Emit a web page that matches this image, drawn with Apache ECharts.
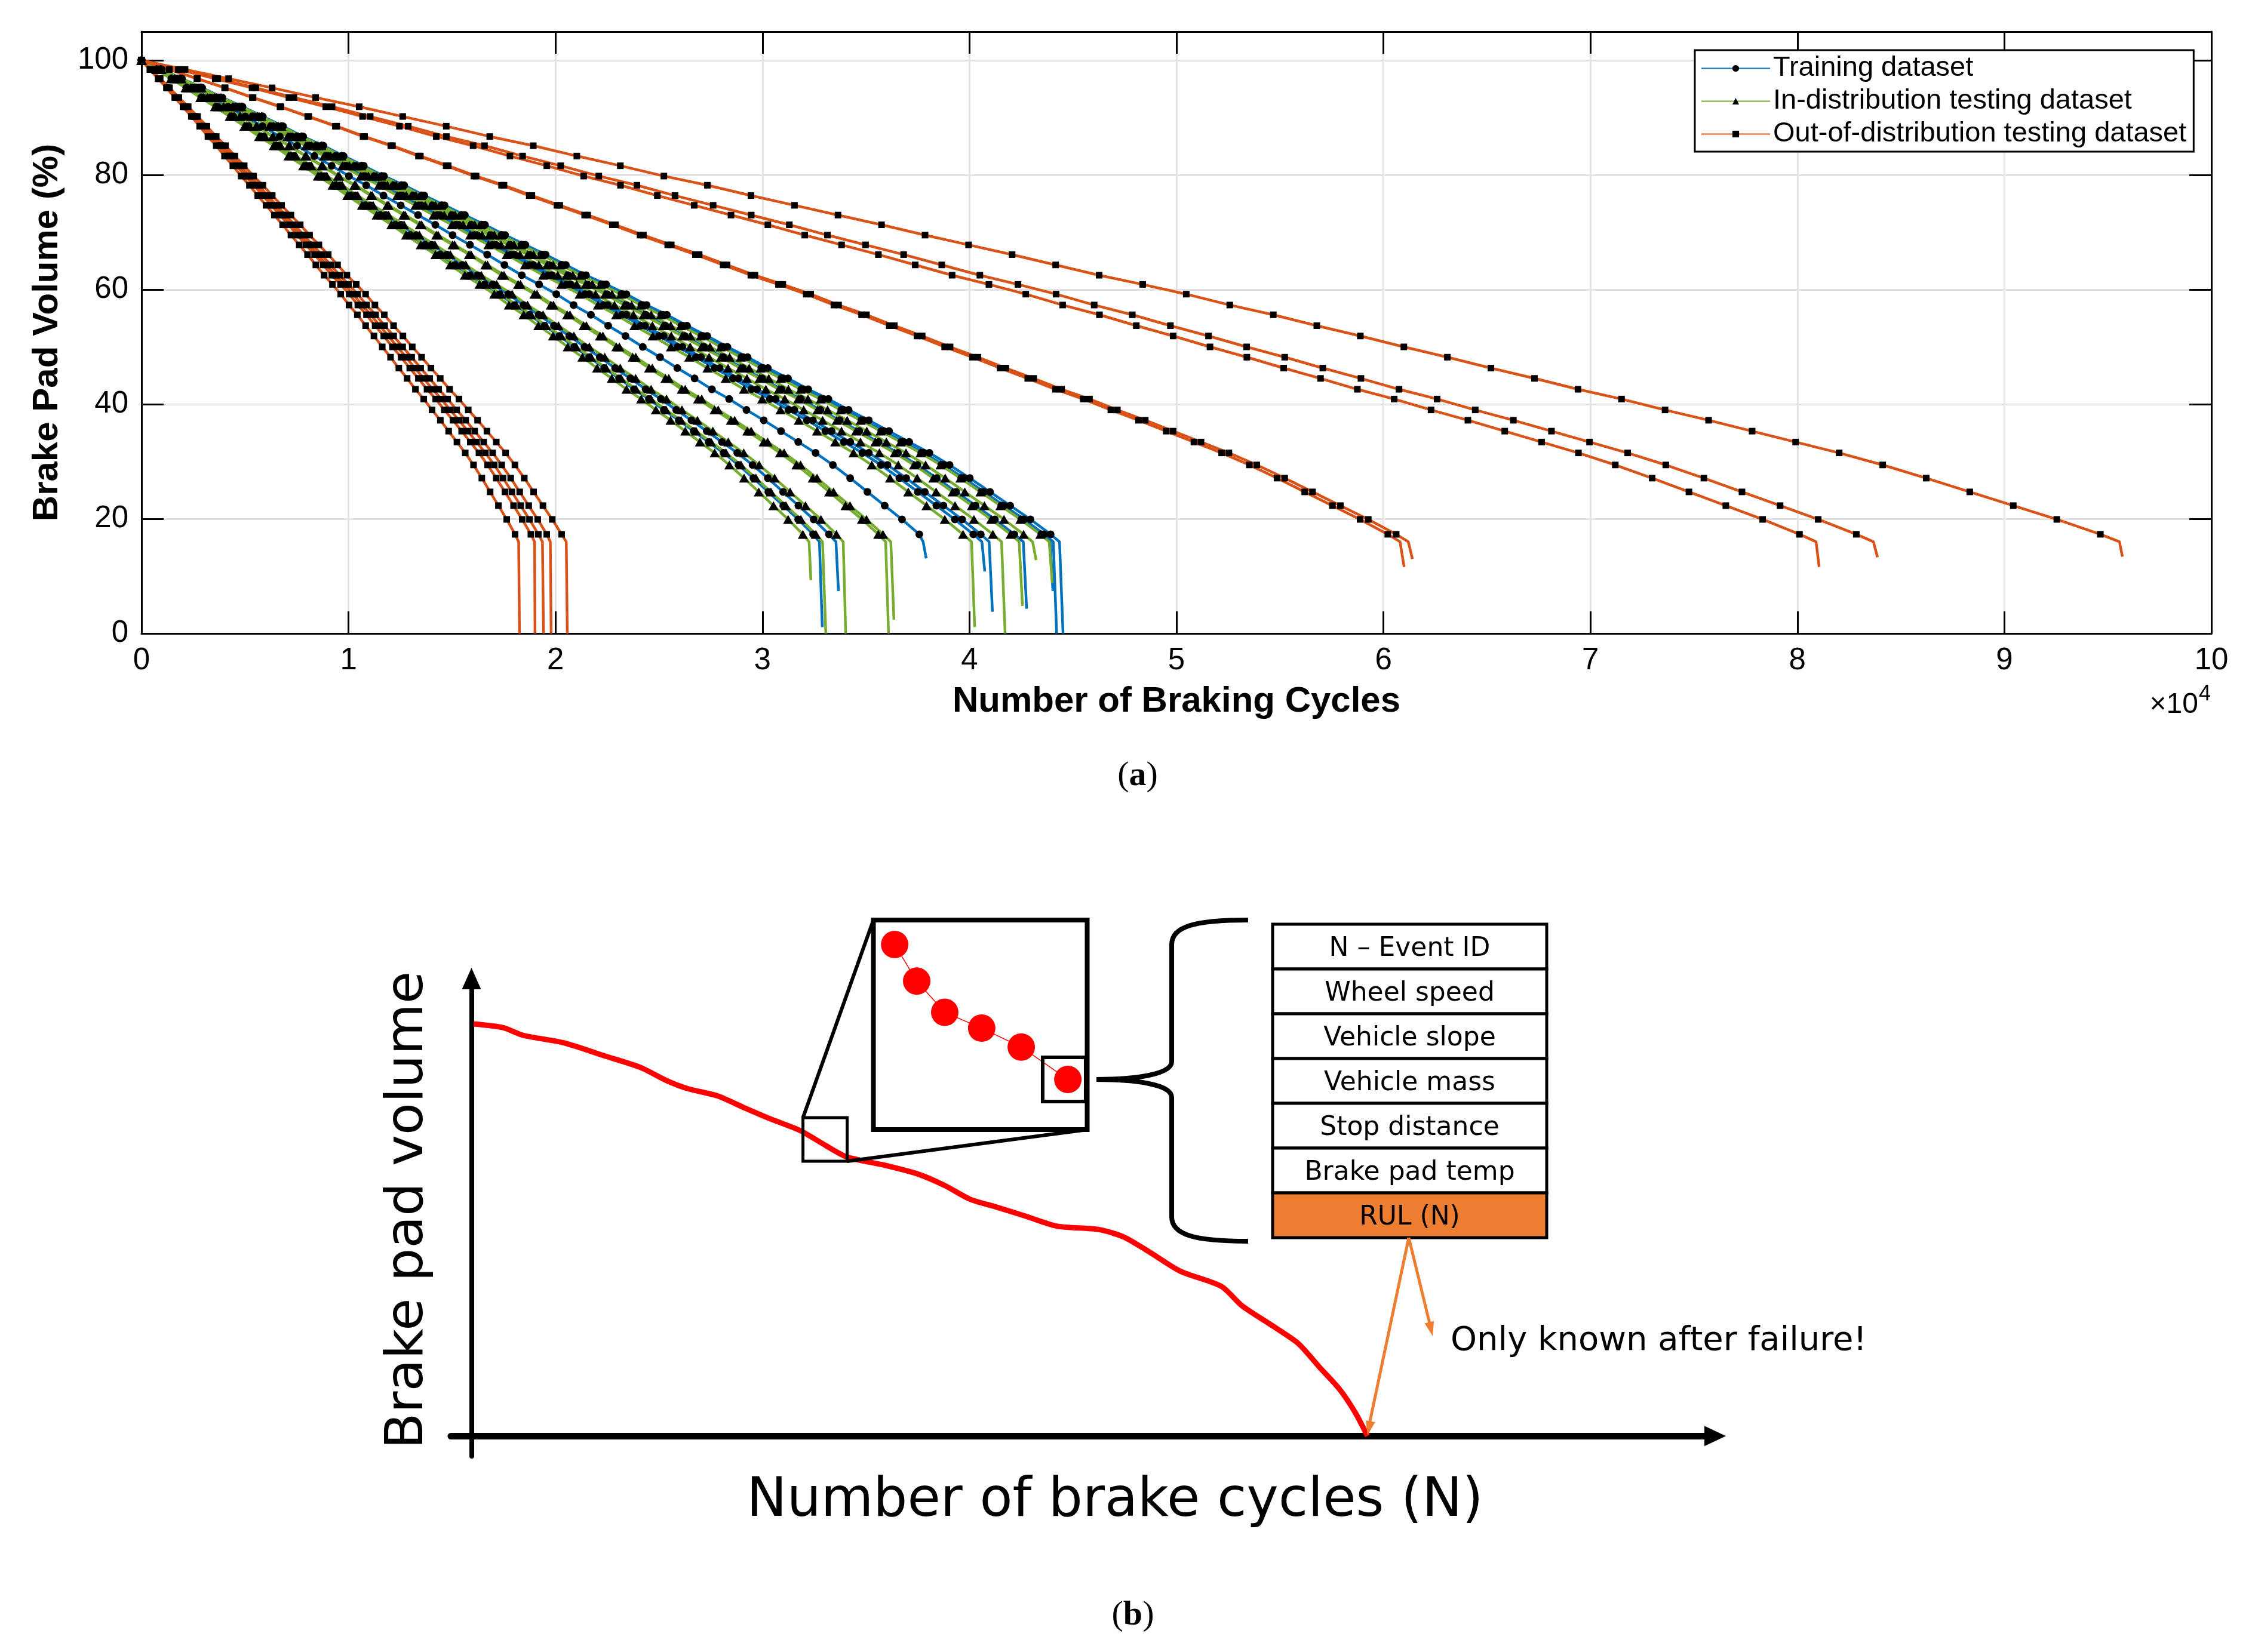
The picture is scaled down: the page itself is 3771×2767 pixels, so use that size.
<!DOCTYPE html>
<html>
<head>
<meta charset="utf-8">
<title>Brake pad volume</title>
<script src="https://cdn.jsdelivr.net/npm/echarts@6.0.0/dist/echarts.min.js"></script>
<style>
  html, body { margin: 0; padding: 0; background: #fff; }
  #chart { width: 3771px; height: 2767px; }
</style>
</head>
<body>
<div id="chart"></div>
<script>
// ---- (a) wear curves ----
// brake pad volume (%) at each plotted marker; every run carries the same number of markers
const markerVolume = [100, 98.4, 96.8, 95.2, 93.5, 91.9, 90.2, 88.5, 86.7, 85.1,
  83.3, 81.6, 79.8, 78.2, 76.4, 74.7, 73.0, 71.3, 69.5, 67.8,
  66.1, 64.3, 62.5, 60.9, 59.2, 57.3, 55.6, 53.7, 51.9, 50.0,
  48.2, 46.3, 44.5, 42.6, 40.9, 39.0, 37.2, 35.3, 33.4, 31.5,
  29.4, 27.1, 24.7, 22.3, 19.9, 17.3];
const kneeVolume = 16;

// cycles are in units of 1e4
// training runs (blue)
const trainStep = [0.0721, 0.0738, 0.0835, 0.0893, 0.0901, 0.0937, 0.0966, 0.0969, 0.0976];
const trainKneeX = [3.275, 3.355, 3.776, 4.06, 4.095, 4.26, 4.39, 4.405, 4.435];
const trainEndX = [3.289, 3.367, 3.791, 4.074, 4.111, 4.276, 4.403, 4.421, 4.452];
const trainEndY = [1.1, 7.4, 13.1, 10.8, 3.8, 4.3, 7.4, 0, 0];

// in-distribution testing runs (green)
const inStep = [0.0710, 0.0724, 0.0746, 0.0791, 0.0796, 0.0882, 0.0914, 0.0933, 0.0947, 0.0965];
const inKneeX = [3.225, 3.29, 3.39, 3.595, 3.62, 4.01, 4.155, 4.24, 4.305, 4.385];
const inEndX = [3.234, 3.306, 3.402, 3.609, 3.635, 4.025, 4.172, 4.256, 4.322, 4.400];
const inEndY = [9.3, 0, 0, 0, 2.4, 1.1, 0, 4.8, 12.8, 8.8];

// out-of-distribution testing runs (orange)
const oodStep = [0.0401, 0.0418, 0.0426, 0.0435, 0.0451, 0.1338, 0.1347, 0.1780, 0.1841, 0.2103];
const oodKneeX = [1.822, 1.899, 1.937, 1.975, 2.052, 6.08, 6.12, 8.09, 8.367, 9.556];
const oodEndX = [1.826, 1.901, 1.942, 1.979, 2.057, 6.10, 6.14, 8.105, 8.387, 9.57];
const oodEndY = [0, 0, 0, 0, 0, 11.6, 13.0, 11.6, 13.3, 13.4];

// ---- (b) sketch ----
// cycles scaled so failure = 100, volume in % of the start
const sketchCycles = [0.25, 3.5, 5.8, 10.3, 14.9, 18.9, 21.8, 24.1, 27.5, 30.4, 33.3, 36.7, 39.6,
  41.9, 45.9, 49.9, 52.8, 55.6, 58.5, 61.9, 65.4, 70.0, 72.8, 75.7, 79.1, 83.7, 86.0, 89.5,
  92.3, 94.6, 96.9, 98.6, 100];
const sketchVolume = [100, 99.1, 97.2, 95.4, 92.2, 89.4, 86.2, 84.3, 82.5, 79.7, 77.0, 74.1, 70.4,
  67.7, 65.8, 63.5, 60.8, 57.5, 55.6, 53.3, 50.9, 50.1, 48.3, 44.6, 40.0, 36.3, 31.6, 26.6,
  22.4, 16.8, 11.3, 5.8, 0];
// zoomed window (arbitrary 0-10 units)
const insetX = [1.01, 2.04, 3.35, 5.08, 6.93, 9.11];
const insetY = [8.83, 7.09, 5.60, 4.84, 3.94, 2.39];
const tableRows = ['N – Event ID', 'Wheel speed', 'Vehicle slope', 'Vehicle mass',
  'Stop distance', 'Brake pad temp', 'RUL (N)'];

const BLUE = '#0072BD', GREEN = '#77AC30', ORANGE = '#D95319', SKETCH_ORANGE = '#ED7D31';
const FONT = 'Liberation Sans', SKETCH_FONT = 'DejaVu Sans', SERIF = 'Liberation Serif';

function runData(step, kneeX, endX, endY) {
  const pts = markerVolume.map((v, i) => [i * step, v]);
  pts.push({ value: [kneeX, kneeVolume], symbol: 'none' });
  pts.push({ value: [endX, endY], symbol: 'none' });
  return pts;
}

function runSeries(name, color, symbol, size, step, kneeX, endX, endY) {
  return step.map((s, k) => ({
    name: name,
    type: 'line',
    xAxisIndex: 0,
    yAxisIndex: 0,
    data: runData(s, kneeX[k], endX[k], endY[k]),
    symbol: symbol,
    symbolSize: size,
    lineStyle: { color: color, width: 4.5 },
    itemStyle: { color: '#000' },
    emphasis: { disabled: true },
    silent: true,
    z: 2
  }));
}

const series = [].concat(
  runSeries('Training dataset', BLUE, 'circle', 13, trainStep, trainKneeX, trainEndX, trainEndY),
  runSeries('In-distribution testing dataset', GREEN, 'triangle', [17, 15], inStep, inKneeX, inEndX, inEndY),
  runSeries('Out-of-distribution testing dataset', ORANGE, 'rect', 11, oodStep, oodKneeX, oodEndX, oodEndY)
);

series.push({
  type: 'line', xAxisIndex: 2, yAxisIndex: 2,
  data: sketchCycles.map((c, i) => [c, sketchVolume[i]]),
  symbol: 'none', smooth: 0.25, lineStyle: { color: '#FF0000', width: 9 }, silent: true, z: 3
});
series.push({
  type: 'line', xAxisIndex: 3, yAxisIndex: 3,
  data: insetX.map((x, i) => [x, insetY[i]]),
  symbol: 'circle', symbolSize: 46, itemStyle: { color: '#FF0000' },
  lineStyle: { color: '#FF0000', width: 1.5 }, silent: true, z: 3
});

// ---- annotations ----
const graphics = [];
const black = '#000';

graphics.push({ type: 'text', x: 3681, y: 1181, style: { text: '×10', fontSize: 48, fontFamily: FONT, fill: black, align: 'right', verticalAlign: 'middle' } });
graphics.push({ type: 'text', x: 3682, y: 1163, style: { text: '4', fontSize: 36, fontFamily: FONT, fill: black, align: 'left', verticalAlign: 'middle' } });

function caption(letter, x, y) {
  return {
    type: 'text', x: x, y: y,
    style: {
      text: '{p|(}{b|' + letter + '}{p|)}',
      rich: {
        p: { fontSize: 58, fontFamily: SERIF, fill: black },
        b: { fontSize: 58, fontFamily: SERIF, fontWeight: 'bold', fill: black }
      },
      align: 'center', verticalAlign: 'middle'
    }
  };
}
graphics.push(caption('a', 1905, 1300));
graphics.push(caption('b', 1897, 2706));

// sketch axis titles
graphics.push({ type: 'text', x: 684, y: 2027, rotation: Math.PI / 2, style: { text: 'Brake pad volume', fontSize: 88, fontFamily: SKETCH_FONT, fill: black, align: 'center', verticalAlign: 'middle' } });
graphics.push({ type: 'text', x: 1867, y: 2516, style: { text: 'Number of brake cycles (N)', fontSize: 90, fontFamily: SKETCH_FONT, fill: black, align: 'center', verticalAlign: 'middle' } });

// zoom boxes
const boxStyle = (w) => ({ fill: 'none', stroke: black, lineWidth: w });
graphics.push({ type: 'rect', shape: { x: 1344.6, y: 1872, width: 74, height: 73 }, style: boxStyle(5), z: 100 });
graphics.push({ type: 'rect', shape: { x: 1462.5, y: 1541, width: 358, height: 351 }, style: boxStyle(8), z: 100 });
graphics.push({ type: 'rect', shape: { x: 1746, y: 1771, width: 72, height: 74 }, style: boxStyle(6), z: 100 });
graphics.push({ type: 'line', shape: { x1: 1344.6, y1: 1872, x2: 1462.5, y2: 1541 }, style: { stroke: black, lineWidth: 6 }, z: 100 });
graphics.push({ type: 'line', shape: { x1: 1418.6, y1: 1945, x2: 1820.5, y2: 1892 }, style: { stroke: black, lineWidth: 6 }, z: 100 });

// curly brace
const braceStyle = { stroke: black, lineWidth: 8, fill: 'none' };
graphics.push({ type: 'bezierCurve', shape: { x1: 2090, y1: 1541, cpx1: 2000, cpy1: 1541, cpx2: 1962, cpy2: 1552, x2: 1962, y2: 1582 }, style: braceStyle, z: 100 });
graphics.push({ type: 'line', shape: { x1: 1962, y1: 1582, x2: 1962, y2: 1778 }, style: braceStyle, z: 100 });
graphics.push({ type: 'bezierCurve', shape: { x1: 1962, y1: 1778, cpx1: 1962, cpy1: 1800, cpx2: 1900, cpy2: 1808, x2: 1836, y2: 1808 }, style: braceStyle, z: 100 });
graphics.push({ type: 'bezierCurve', shape: { x1: 1836, y1: 1808, cpx1: 1900, cpy1: 1808, cpx2: 1962, cpy2: 1816, x2: 1962, y2: 1838 }, style: braceStyle, z: 100 });
graphics.push({ type: 'line', shape: { x1: 1962, y1: 1838, x2: 1962, y2: 2038 }, style: braceStyle, z: 100 });
graphics.push({ type: 'bezierCurve', shape: { x1: 1962, y1: 2038, cpx1: 1962, cpy1: 2068, cpx2: 2000, cpy2: 2079, x2: 2090, y2: 2079 }, style: braceStyle, z: 100 });

// feature table
const tableLeft = 2131, tableTop = 1548, tableW = 459, rowH = 75;
tableRows.forEach((label, i) => {
  const last = i === tableRows.length - 1;
  graphics.push({ type: 'rect', shape: { x: tableLeft, y: tableTop + i * rowH, width: tableW, height: rowH },
    style: { fill: last ? SKETCH_ORANGE : '#fff', stroke: black, lineWidth: 5 }, z: 100 });
  graphics.push({ type: 'text', x: tableLeft + tableW / 2, y: tableTop + i * rowH + rowH / 2 + 4,
    style: { text: label, fontSize: 44, fontFamily: SKETCH_FONT, fill: black, align: 'center', verticalAlign: 'middle' }, z: 101 });
});

// orange arrows from the RUL cell
const arrowStyle = { stroke: SKETCH_ORANGE, lineWidth: 5 };
graphics.push({ type: 'line', shape: { x1: 2359, y1: 2073, x2: 2292, y2: 2390 }, style: arrowStyle, z: 100 });
graphics.push({ type: 'polygon', shape: { points: [[2290, 2404], [2302.7, 2382.1], [2287.1, 2378.9]] }, style: { fill: SKETCH_ORANGE }, z: 100 });
graphics.push({ type: 'line', shape: { x1: 2359, y1: 2073, x2: 2396, y2: 2225 }, style: arrowStyle, z: 100 });
graphics.push({ type: 'polygon', shape: { points: [[2399, 2238], [2401.1, 2212.8], [2385.6, 2216.6]] }, style: { fill: SKETCH_ORANGE }, z: 100 });
graphics.push({ type: 'text', x: 2429, y: 2246, style: { text: 'Only known after failure!', fontSize: 56, fontFamily: SKETCH_FONT, fill: black, align: 'left', verticalAlign: 'middle' } });

// ---- chart ----
const chart = echarts.init(document.getElementById('chart'), null, { renderer: 'canvas' });
const axisLineA = { onZero: false, lineStyle: { color: black, width: 3 } };
const tickA = { inside: true, length: 37, lineStyle: { color: black, width: 3 } };
const gridLineA = { show: true, lineStyle: { color: '#e3e3e3', width: 3 } };

chart.setOption({
  animation: false,
  backgroundColor: '#fff',
  grid: [
    { left: 237, right: 68, top: 53, bottom: 1706, containLabel: false, outerBoundsMode: 'none' },
    { left: 755, top: 1639, width: 2117, height: 800, containLabel: false, outerBoundsMode: 'none' },
    { left: 1462, top: 1541, width: 358, height: 351, containLabel: false, outerBoundsMode: 'none' }
  ],
  legend: {
    data: ['Training dataset', 'In-distribution testing dataset', 'Out-of-distribution testing dataset'],
    orient: 'vertical',
    left: 2838, top: 84,
    padding: [7, 12, 6, 10],
    itemGap: 8,
    itemWidth: 115,
    itemHeight: 14,
    selectedMode: false,
    backgroundColor: '#fff',
    borderColor: black,
    borderWidth: 3,
    borderRadius: 0,
    textStyle: { fontSize: 47, fontFamily: FONT, color: black }
  },
  xAxis: [
    {
      gridIndex: 0, type: 'value', min: 0, max: 10, interval: 1, position: 'bottom',
      axisLine: axisLineA, axisTick: tickA, splitLine: gridLineA,
      axisLabel: { margin: 20, fontSize: 51, fontFamily: FONT, color: black },
      name: 'Number of Braking Cycles', nameLocation: 'middle', nameGap: 84,
      nameTextStyle: { fontSize: 60, fontWeight: 'bold', fontFamily: FONT, color: black }
    },
    {
      gridIndex: 0, type: 'value', min: 0, max: 10, interval: 1, position: 'top',
      axisLine: axisLineA, axisTick: tickA, axisLabel: { show: false }, splitLine: { show: false }
    },
    {
      gridIndex: 1, type: 'value', min: -2.3, max: 138.8,
      axisLine: { onZero: true, symbol: ['none', 'triangle'], symbolSize: [34, 36], lineStyle: { color: black, width: 11 } },
      axisTick: { show: false }, axisLabel: { show: false }, splitLine: { show: false }
    },
    { gridIndex: 2, type: 'value', min: 0, max: 10, show: false }
  ],
  yAxis: [
    {
      gridIndex: 0, type: 'value', min: 0, max: 105, interval: 20, position: 'left',
      axisLine: axisLineA, axisTick: tickA, splitLine: gridLineA,
      axisLabel: { margin: 22, fontSize: 51, fontFamily: FONT, color: black,
        formatter: (v) => (v % 20 === 0 ? String(v) : '') },
      name: 'Brake Pad Volume (%)', nameLocation: 'middle', nameGap: 128,
      nameTextStyle: { fontSize: 60, fontWeight: 'bold', fontFamily: FONT, color: black }
    },
    {
      gridIndex: 0, type: 'value', min: 0, max: 105, interval: 20, position: 'right',
      axisLine: axisLineA, axisTick: tickA, axisLabel: { show: false }, splitLine: { show: false }
    },
    {
      gridIndex: 1, type: 'value', min: -4.9, max: 111,
      axisLine: { onZero: true, symbol: ['none', 'triangle'], symbolSize: [32, 36], lineStyle: { color: black, width: 8 } },
      axisTick: { show: false }, axisLabel: { show: false }, splitLine: { show: false }
    },
    { gridIndex: 2, type: 'value', min: 0, max: 10, show: false }
  ],
  series: series,
  graphic: { elements: graphics }
});
</script>
</body>
</html>
